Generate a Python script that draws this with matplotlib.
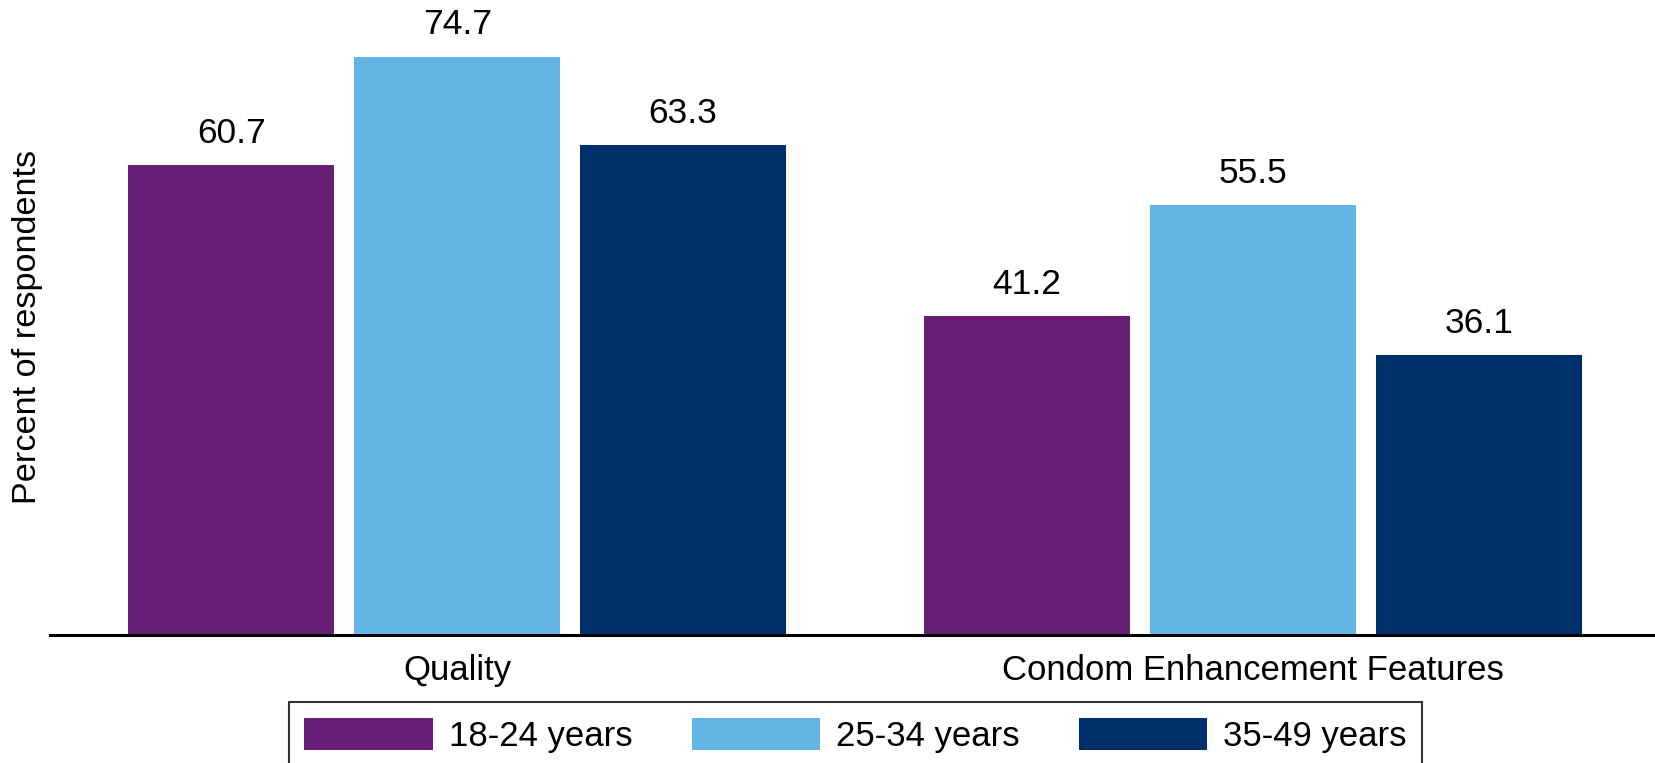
import matplotlib
matplotlib.use("Agg")
import matplotlib.pyplot as plt
import numpy as np

categories = ["Quality", "Condom Enhancement Features"]
series_names = ["18-24 years", "25-34 years", "35-49 years"]
values_18_24 = [60.7, 41.2]
values_25_34 = [74.7, 55.5]
values_35_49 = [63.3, 36.1]
colors = ["#671E74", "#63B4E4", "#00306B"]

plt.rcParams['font.family'] = ['Liberation Sans', 'DejaVu Sans']

fig = plt.figure(figsize=(16.56, 7.63), dpi=100)
ax = fig.add_axes([50/1656, 1 - 635/763, 1 - 50/1656, 635/763])

x = np.arange(len(categories))
step = 0.284
width = 0.259
all_vals = [values_18_24, values_25_34, values_35_49]
for i, (vals, name, c) in enumerate(zip(all_vals, series_names, colors)):
    bars = ax.bar(x + (i - 1) * step, vals, width, color=c, label=name)
    for b, v in zip(bars, vals):
        ax.annotate(f"{v:.1f}", (b.get_x() + b.get_width() / 2, v),
                    xytext=(0, 11), textcoords="offset points",
                    ha="center", va="bottom", fontsize=25.5)

ax.set_xlim(-0.512, 1.507)
ax.set_ylim(0, 82)
for s in ["top", "right", "left"]:
    ax.spines[s].set_visible(False)
ax.spines["bottom"].set_linewidth(2.2)
ax.spines["bottom"].set_color("black")
ax.set_yticks([])
ax.set_xticks(x)
ax.set_xticklabels(categories, fontsize=25)
ax.tick_params(axis="x", length=0, pad=14)

fig.text(28/1656, 1 - 327/763, "Percent of respondents", rotation=90,
         ha="center", va="center", fontsize=24.7)

leg = fig.legend(loc="upper center", bbox_to_anchor=(855.5/1656, 1 - 702/763), ncol=3,
                 fontsize=25, frameon=True, fancybox=False, edgecolor="black",
                 handlelength=3.7, handleheight=1.05, handletextpad=0.46,
                 columnspacing=1.7, borderpad=0.45, borderaxespad=0)
leg.get_frame().set_linewidth(1.5)

fig.savefig("out.png", dpi=100)
